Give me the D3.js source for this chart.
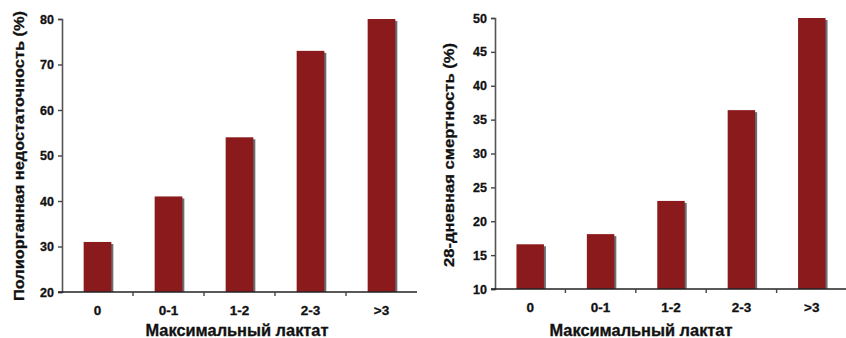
<!DOCTYPE html>
<html>
<head>
<meta charset="utf-8">
<script src="https://cdn.jsdelivr.net/npm/d3@7"></script>
<style>
  html, body { margin: 0; padding: 0; background: #fff; }
  svg { display: block; }
  text { font-family: "Liberation Sans", Arial, sans-serif; font-weight: bold; fill: #111; }
</style>
</head>
<body>
<svg id="chart" width="846" height="338"></svg>
<script>
// Lactate categories shared by both panels
const categories = ["0", "0-1", "1-2", "2-3", ">3"];

// Panel 1: multiple organ failure (%)
const organFailure = [31, 41, 54, 73, 80];
const organTicks = [20, 30, 40, 50, 60, 70, 80];

// Panel 2: 28-day mortality (%)
const mortality = [16.6, 18.1, 23, 36.4, 50];
const mortalityTicks = [10, 15, 20, 25, 30, 35, 40, 45, 50];

const xTitle = "Максимальный лактат";

const svg = d3.select("#chart");
const barColor = "#8b1a1c";
const shadowColor = "#3a3f44";

function panel(opts) {
  const g = svg.append("g");
  const x = d3.scaleBand().domain(categories).range([opts.x0, opts.x1]).padding(0);
  const y = d3.scaleLinear().domain(opts.domain).range([opts.yBottom, opts.yTop]);
  const bw = x.step() * 0.39;

  // bar shadows
  g.selectAll("rect.shadow").data(opts.values).join("rect")
    .attr("class", "shadow")
    .attr("x", (d, i) => x(categories[i]) + (x.step() - bw) / 2 + 2)
    .attr("y", d => y(d) + 2)
    .attr("width", bw)
    .attr("height", d => y(opts.domain[0]) - y(d) - 2)
    .attr("fill", shadowColor)
    .attr("opacity", 0.75);

  // bars
  g.selectAll("rect.bar").data(opts.values).join("rect")
    .attr("class", "bar")
    .attr("x", (d, i) => x(categories[i]) + (x.step() - bw) / 2)
    .attr("y", d => y(d))
    .attr("width", bw)
    .attr("height", d => y(opts.domain[0]) - y(d))
    .attr("fill", barColor);

  // y axis
  const yAxis = g.append("g")
    .attr("transform", `translate(${opts.x0},0)`)
    .call(d3.axisLeft(y).tickValues(opts.ticks).tickSize(4).tickPadding(4).tickFormat(d3.format("d")));
  yAxis.select(".domain").attr("stroke", "#555").attr("stroke-width", 1.6);
  yAxis.selectAll(".tick line").attr("stroke", "#444").attr("stroke-width", 1.4);
  yAxis.selectAll(".tick text").style("font-size", "12.5px").attr("fill", "#111")
    .style("stroke", "#111").style("stroke-width", 0.3);

  // x axis: ticks between categories
  const xAxisG = g.append("g").attr("transform", `translate(0,${opts.yBottom})`);
  xAxisG.append("line")
    .attr("x1", opts.x0 - 4).attr("x2", opts.x1)
    .attr("stroke", "#222").attr("stroke-width", 1.6);
  xAxisG.selectAll("line.sep").data(categories.slice(1)).join("line")
    .attr("class", "sep")
    .attr("x1", d => x(d)).attr("x2", d => x(d))
    .attr("y1", 0).attr("y2", 4)
    .attr("stroke", "#444").attr("stroke-width", 1.4);
  xAxisG.selectAll("text").data(categories).join("text")
    .attr("x", d => x(d) + x.step() / 2)
    .attr("y", 23)
    .attr("text-anchor", "middle")
    .style("font-size", "13.5px")
    .style("stroke", "#111").style("stroke-width", 0.3)
    .text(d => d);

  // x title
  g.append("text")
    .attr("x", opts.xTitleX)
    .attr("y", 336)
    .attr("text-anchor", "middle")
    .attr("textLength", 183)
    .attr("lengthAdjust", "spacingAndGlyphs")
    .style("font-size", "16px")
    .style("stroke", "#111").style("stroke-width", 0.3)
    .text(xTitle);

  // y title
  g.append("text")
    .attr("transform", `translate(${opts.yTitleX},${opts.yTitleY}) rotate(-90)`)
    .attr("text-anchor", "middle")
    .attr("textLength", opts.yTitleLen)
    .attr("lengthAdjust", "spacingAndGlyphs")
    .style("font-size", "15px")
    .style("stroke", "#111").style("stroke-width", 0.3)
    .text(opts.yTitle);
}

panel({
  values: organFailure, ticks: organTicks, domain: [20, 80],
  x0: 62, x1: 417, yTop: 19, yBottom: 292,
  xTitleX: 237, yTitleX: 24, yTitleY: 156, yTitleLen: 290,
  yTitle: "Полиорганная недостаточность (%)"
});

panel({
  values: mortality, ticks: mortalityTicks, domain: [10, 50],
  x0: 495, x1: 847, yTop: 18, yBottom: 289,
  xTitleX: 641, yTitleX: 454, yTitleY: 155, yTitleLen: 224,
  yTitle: "28-дневная смертность (%)"
});
</script>
</body>
</html>
